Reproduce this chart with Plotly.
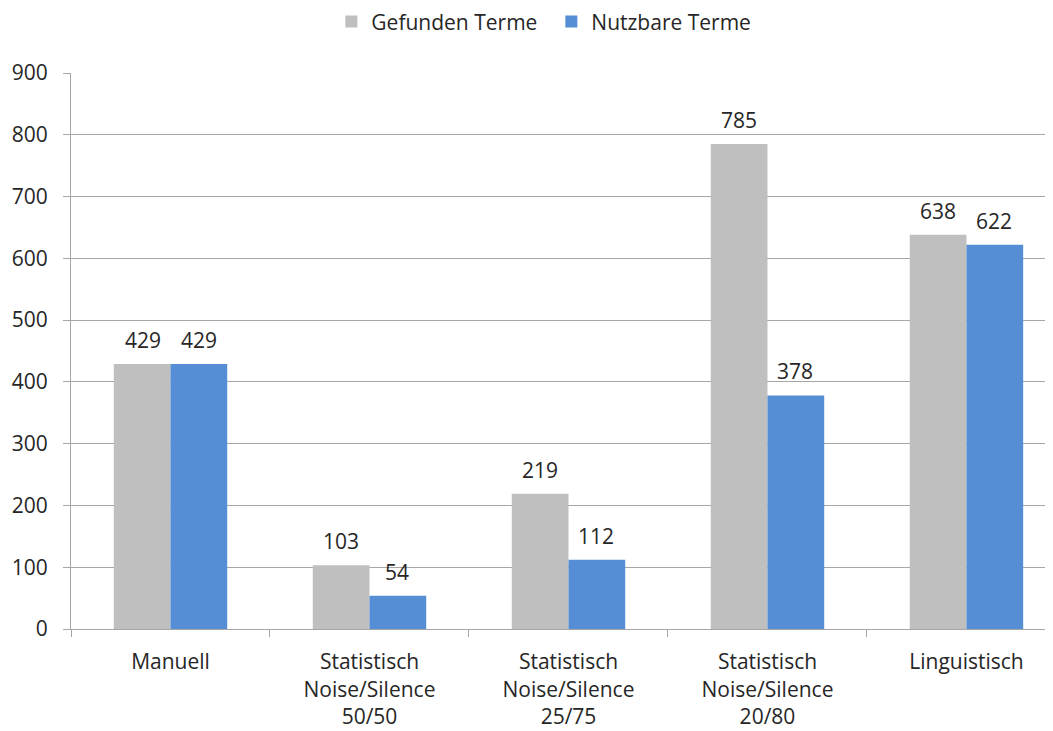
import plotly.graph_objects as go

categories = ["Manuell", "Statistisch<br>Noise/Silence<br>50/50", "Statistisch<br>Noise/Silence<br>25/75",
              "Statistisch<br>Noise/Silence<br>20/80", "Linguistisch"]
gefunden = [429, 103, 219, 785, 638]
nutzbar = [429, 54, 112, 378, 622]
series_names = ["Gefunden Terme", "Nutzbare Terme"]
series_colors = ["#BFBFBF", "#558ED5"]
y_ticks = [0, 100, 200, 300, 400, 500, 600, 700, 800, 900]

FONT = "Open Sans, Noto Sans, sans-serif"
TXT = "#262626"
FS = 21

fig = go.Figure()
for name, vals, col in zip(series_names, [gefunden, nutzbar], series_colors):
    fig.add_trace(go.Bar(
        x=categories, y=vals, name=name, marker=dict(color=col, line=dict(width=0)),
    ))

# data labels placed at each bar's value on the y scale
for vals, shift in [(gefunden, -28), (nutzbar, 28)]:
    for cat, v in zip(categories, vals):
        fig.add_annotation(x=cat, y=v, xref="x", yref="y", text=str(v), showarrow=False,
                           xshift=shift, yshift=24, yanchor="middle", xanchor="center",
                           font=dict(family=FONT, size=FS, color=TXT))

fig.update_layout(
    width=1053, height=731,
    margin=dict(l=63, r=0, t=65, b=110, autoexpand=False),
    paper_bgcolor="white", plot_bgcolor="white",
    barmode="group", bargap=0.43, bargroupgap=0,
    font=dict(family=FONT, size=FS, color=TXT),
    legend=dict(orientation="h", xref="container", x=0.516, xanchor="center",
                yref="paper", y=1.092, yanchor="middle",
                font=dict(family=FONT, size=FS, color=TXT), itemwidth=30,
                entrywidth=175, entrywidthmode="pixels"),
)
fig.update_xaxes(
    range=[-0.5, 4.475], showgrid=False, showline=True, linecolor="#A6A6A6", linewidth=1,
    ticks="outside", tickson="boundaries", ticklen=7, tickcolor="#A6A6A6",
    tickfont=dict(family=FONT, size=FS, color=TXT), ticklabelstandoff=14, automargin=False,
)
fig.update_yaxes(
    range=[0, 900], tickvals=y_ticks, showgrid=True, gridcolor="#A6A6A6", gridwidth=1,
    showline=True, linecolor="#A6A6A6", linewidth=1, zeroline=False,
    ticks="outside", ticklen=7, tickcolor="#A6A6A6",
    tickfont=dict(family=FONT, size=FS, color=TXT), ticklabelstandoff=11, automargin=False,
)
fig.write_html("out.html")
